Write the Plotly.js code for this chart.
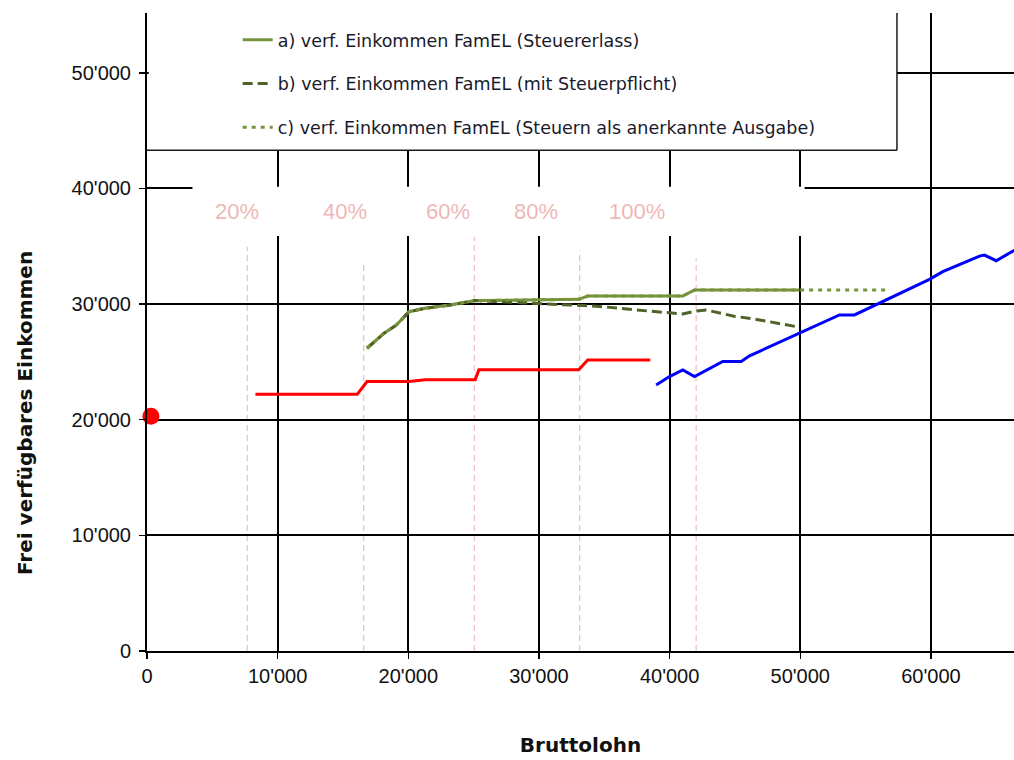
<!DOCTYPE html>
<html><head><meta charset="utf-8">
<script src="https://cdn.plot.ly/plotly-3.0.1.min.js"></script>
<style>html,body{margin:0;padding:0;background:#fff}</style>
</head><body><div id="chart" style="width:1014px;height:760px"></div>
<script>
// ---- data ----
const seriesNames = [
  "a) verf. Einkommen FamEL (Steuererlass)",
  "b) verf. Einkommen FamEL (mit Steuerpflicht)",
  "c) verf. Einkommen FamEL (Steuern als anerkannte Ausgabe)"
];
const startX = [300];
const startY = [20300];

const redX = [8300, 16100, 16840, 20060, 21290, 25120, 25400, 33050, 33730, 38520];
const redY = [22210, 22210, 23300, 23300, 23450, 23450, 24310, 24310, 25170, 25170];

const blueX = [38970, 39990, 41010, 41910, 44070, 45480, 46120, 49940, 53000, 54150, 59890, 60910, 63720, 64100, 65000, 66320, 66800];
const blueY = [23010, 23730, 24310, 23730, 25030, 25030, 25520, 27480, 29060, 29060, 32140, 32800, 34150, 34240, 33750, 34610, 34850];

const aX = [16840, 18150, 19100, 20060, 21290, 23210, 25120, 30000, 33050, 33730, 41000, 41910, 49940];
const aY = [26180, 27480, 28200, 29340, 29640, 29920, 30300, 30350, 30410, 30700, 30700, 31220, 31220];

const bX = [16840, 18150, 19100, 20060, 21290, 23210, 25120, 30040, 33050, 34630, 37440, 40500, 41000, 41910, 42800, 44840, 46880, 49940];
const bY = [26180, 27480, 28200, 29340, 29640, 29920, 30300, 30050, 29850, 29800, 29490, 29150, 29150, 29380, 29490, 28970, 28630, 28000];

const cX = [16840, 18150, 19100, 20060, 21290, 23210, 25120, 30000, 33050, 33730, 41000, 41910, 49940, 56580];
const cY = [26180, 27480, 28200, 29340, 29640, 29920, 30300, 30350, 30410, 30700, 30700, 31220, 31220, 31220];

const pctLabels = ["20%", "40%", "60%", "80%", "100%"];
const pctLabelX = [6850, 15120, 23000, 29740, 37470];
const pctLabelY = 38000;
const pctLineX = [7670, 16590, 25050, 33120, 42030];
const pctLineTop = [34960, 33660, 35820, 34670, 33980];

const xTitle = "Bruttolohn";
const yTitle = "Frei verfügbares Einkommen";

// ---- traces ----
const traces = [
  {x: startX, y: startY, type: 'scatter', mode: 'markers', marker: {color: '#FF0000', size: 17}, showlegend: false, cliponaxis: false, hoverinfo: 'skip'},
  {x: redX, y: redY, type: 'scatter', mode: 'lines', line: {color: '#FF0000', width: 3}, showlegend: false},
  {x: blueX, y: blueY, type: 'scatter', mode: 'lines', line: {color: '#0000FF', width: 3}, showlegend: false},
  {x: aX, y: aY, name: seriesNames[0], legendgroup: 'a', type: 'scatter', mode: 'lines', line: {color: '#77933C', width: 3}},
  {x: bX, y: bY, name: seriesNames[1], legendgroup: 'b', type: 'scatter', mode: 'lines', line: {color: '#4F6228', width: 3, dash: '10px,5px'}},
  {x: cX, y: cY, name: seriesNames[2], legendgroup: 'c', type: 'scatter', mode: 'lines', line: {color: '#77933C', width: 3, dash: '4px,5px'}}
];

// ---- shapes ----
const shapes = [];
pctLineX.forEach((px, i) => {
  shapes.push({type: 'line', xref: 'x', yref: 'y', x0: px, x1: px, y0: 0, y1: pctLineTop[i], layer: 'below',
    line: {color: '#EDB0B0', width: 1, dash: '6px,4px'}});
});
// white box behind the percentage labels
shapes.push({type: 'rect', xref: 'x', yref: 'y', x0: 3480, x1: 50330, y0: 35880, y1: 40150, layer: 'above',
  fillcolor: '#FFFFFF', line: {width: 0}});
// legend box
shapes.push({type: 'rect', xref: 'paper', yref: 'paper', x0: 0.002, x1: 0.865, y0: 0.785, y1: 1.05, layer: 'above',
  fillcolor: '#FFFFFF', line: {width: 0}});
shapes.push({type: 'line', xref: 'paper', yref: 'paper', x0: 0, x1: 0.865, y0: 0.785, y1: 0.785, layer: 'above',
  line: {color: '#1a1a1a', width: 1.5}});
shapes.push({type: 'line', xref: 'paper', yref: 'paper', x0: 0.865, x1: 0.865, y0: 0.785, y1: 1.0, layer: 'above',
  line: {color: '#1a1a1a', width: 1.5}});

const annotations = pctLabels.map((t, i) => ({
  text: t, x: pctLabelX[i], y: pctLabelY, xref: 'x', yref: 'y', showarrow: false,
  font: {family: 'Liberation Sans, Arial, sans-serif', size: 22, color: '#EFB7B7'}
}));
annotations.push({text: yTitle, xref: 'paper', yref: 'paper', x: -0.1407, y: 0.373, xanchor: 'center', yanchor: 'middle',
  textangle: -90, showarrow: false, font: {family: 'DejaVu Sans, sans-serif', size: 20, color: '#111111', weight: 'bold'}});

const layout = {
  width: 1014, height: 760,
  margin: {l: 147, r: 0, t: 13, b: 109},
  paper_bgcolor: '#FFFFFF', plot_bgcolor: '#FFFFFF',
  separators: ".'",
  showlegend: true,
  legend: {x: 0.1046, y: 0.986, xanchor: 'left', yanchor: 'top', bgcolor: 'rgba(0,0,0,0)', borderwidth: 0,
    tracegroupgap: 18, font: {family: 'DejaVu Sans, sans-serif', size: 17.5, color: '#1a1a2a'}},
  xaxis: {
    range: [0, 66360], tick0: 0, dtick: 10000, tickformat: ',d',
    showgrid: true, gridcolor: '#000000', gridwidth: 2,
    showline: true, linecolor: '#000000', linewidth: 2, zeroline: false,
    ticks: 'outside', ticklen: 6, tickcolor: '#000000', tickwidth: 1.5,
    tickfont: {family: 'Liberation Sans, Arial, sans-serif', size: 20, color: '#111111'},
    title: {text: xTitle, standoff: 52, font: {family: 'DejaVu Sans, sans-serif', size: 20, color: '#111111', weight: 'bold'}},
    automargin: false
  },
  yaxis: {
    range: [0, 55170], tick0: 0, dtick: 10000, tickformat: ',d',
    showgrid: true, gridcolor: '#000000', gridwidth: 2,
    showline: true, linecolor: '#000000', linewidth: 2, zeroline: false,
    ticks: 'outside', ticklen: 6, tickcolor: '#000000', tickwidth: 1.5,
    ticklabelstandoff: 4,
    tickfont: {family: 'Liberation Sans, Arial, sans-serif', size: 20, color: '#111111'},
    automargin: false
  },
  shapes: shapes,
  annotations: annotations
};

Plotly.newPlot('chart', traces, layout, {displayModeBar: false, staticPlot: true});
</script></body></html>
